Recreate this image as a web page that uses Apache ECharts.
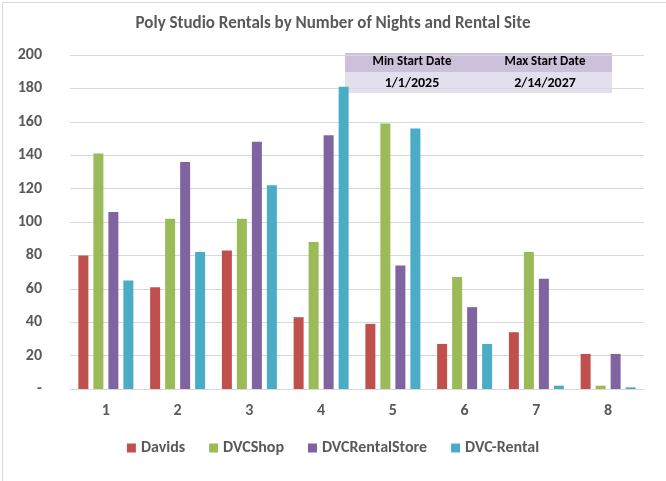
<!DOCTYPE html>
<html><head><meta charset="utf-8">
<script src="https://cdn.jsdelivr.net/npm/echarts@6/dist/echarts.min.js"></script>
<style>html,body{margin:0;padding:0;background:#fff}#c{width:666px;height:481px}</style>
</head><body><div id="c"></div>
<script>
const categories = ['1','2','3','4','5','6','7','8'];
const davids = [80, 61, 83, 43, 39, 27, 34, 21];
const dvcShop = [141, 102, 102, 88, 159, 67, 82, 2];
const dvcRentalStore = [106, 136, 148, 152, 74, 49, 66, 21];
const dvcRental = [65, 82, 122, 181, 156, 27, 2, 1];
const tableHeaders = ['Min Start Date', 'Max Start Date'];
const tableValues = ['1/1/2025', '2/14/2027'];

const font = 'Calibri, Carlito, "Liberation Sans", sans-serif';
const chart = echarts.init(document.getElementById('c'));
function s(name, data, color) {
  return { name, type: 'bar', data, itemStyle: { color }, barWidth: 10, barGap: '50%', barCategoryGap: '25%' };
}
chart.setOption({
  animation: false,
  title: { text: 'Poly Studio Rentals by Number of Nights and Rental Site', left: 'center', top: 10,
    textStyle: { fontSize: 17, fontWeight: 'bold', color: '#595959', fontFamily: font } },
  legend: { bottom: 20, itemWidth: 9, itemHeight: 9, itemGap: 24, icon: 'rect',
    textStyle: { fontSize: 16, fontWeight: 'bold', color: '#595959', fontFamily: font } },
  grid: { left: 70, right: 22, top: 55, bottom: 92 },
  xAxis: { type: 'category', data: categories,
    axisLine: { lineStyle: { color: '#d9d9d9' } }, axisTick: { show: false },
    axisLabel: { fontSize: 16, fontWeight: 'bold', color: '#595959', margin: 14, fontFamily: font } },
  yAxis: { type: 'value', min: 0, max: 200, interval: 20,
    axisLabel: { fontSize: 16, fontWeight: 'bold', color: '#595959', margin: 28, fontFamily: font,
      formatter: v => v === 0 ? '-' : v },
    splitLine: { lineStyle: { color: '#d9d9d9' } } },
  series: [
    s('Davids', davids, '#c0504d'),
    s('DVCShop', dvcShop, '#9bbb59'),
    s('DVCRentalStore', dvcRentalStore, '#8064a2'),
    s('DVC-Rental', dvcRental, '#4bacc6')
  ],
  graphic: [
    { type: 'rect', left: 0, top: 0, shape: { width: 665, height: 480 }, style: { fill: 'none', stroke: '#d9d9d9' }, silent: true },
    { type: 'rect', left: 345, top: 53, shape: { width: 267, height: 19 }, style: { fill: '#ccc0da' } },
    { type: 'rect', left: 345, top: 72, shape: { width: 267, height: 21 }, style: { fill: '#e4dfec' } },
    { type: 'text', x: 412, y: 62, style: { text: tableHeaders[0], align: 'center', verticalAlign: 'middle', font: 'bold 13px ' + font, fill: '#000' } },
    { type: 'text', x: 545, y: 62, style: { text: tableHeaders[1], align: 'center', verticalAlign: 'middle', font: 'bold 13px ' + font, fill: '#000' } },
    { type: 'text', x: 412, y: 83, style: { text: tableValues[0], align: 'center', verticalAlign: 'middle', font: 'bold 14px ' + font, fill: '#000' } },
    { type: 'text', x: 545, y: 83, style: { text: tableValues[1], align: 'center', verticalAlign: 'middle', font: 'bold 14px ' + font, fill: '#000' } }
  ]
});
</script></body></html>
